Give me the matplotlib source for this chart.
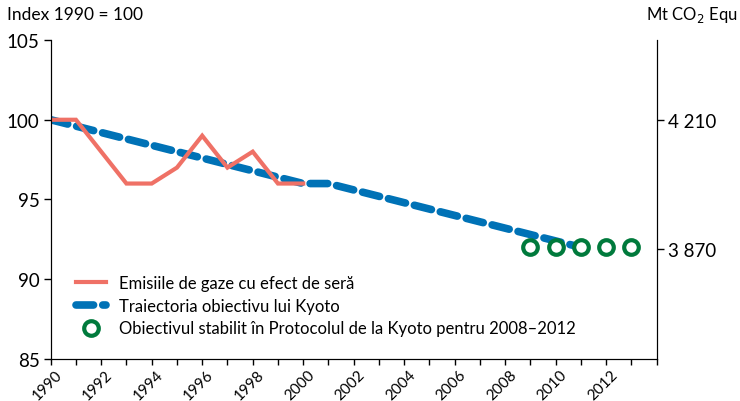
import numpy as np
import matplotlib
matplotlib.use("Agg")
import matplotlib.pyplot as plt
import matplotlib.transforms as mtransforms

plt.rcParams['font.family'] = ['Lato', 'DejaVu Sans']

# Emisiile de gaze (index 1990 = 100)
em_years = [1990, 1991, 1992, 1993, 1994, 1995, 1996, 1997, 1998, 1999, 2000]
em_values = [100, 100, 98, 96, 96, 97, 99, 97, 98, 96, 96]

# Traiectoria obiectiv Kyoto
ky_years = [1990, 1991, 1992, 1993, 1994, 1995, 1996, 1997, 1998, 1999, 2000,
            2001, 2002, 2003, 2004, 2005, 2006, 2007, 2008, 2009, 2010, 2011]
ky_values = [100, 99.6, 99.2, 98.8, 98.4, 98.0, 97.6, 97.2, 96.8, 96.4, 96.0,
             96.0, 95.6, 95.2, 94.8, 94.4, 94.0, 93.6, 93.2, 92.8, 92.4, 92.0]

# Obiectivul stabilit (pozitii ca in grafic)
ob_years = [2009, 2010, 2011, 2012, 2013]
ob_values = [92, 92, 92, 92, 92]

left_ticks = [85, 90, 95, 100, 105]
right_ticks = [3870, 4210]
right_labels = ['3 870', '4 210']
scale = 42.1  # Mt CO2 per index point

red = '#EF7166'
blue = '#0072B6'
green = '#007A3C'

fig = plt.figure(figsize=(7.4, 4.02), dpi=100)
ax = fig.add_axes([0.0685, 0.1045, 0.819, 0.7935])

ax.plot(em_years, em_values, color=red, lw=3, solid_joinstyle='miter',
        label='Emisiile de gaze cu efect de seră', zorder=3)
ax.plot(ky_years, ky_values, color=blue, lw=5.5, dashes=(2.3, 1.2),
        dash_capstyle='round', label='Traiectoria obiectivu lui Kyoto', zorder=2)
ax.plot(ob_years, ob_values, ls='none', marker='o', ms=10.5, mfc='white',
        mec=green, mew=3, zorder=4,
        label='Obiectivul stabilit în Protocolul de la Kyoto pentru 2008–2012')

ax.set_xlim(1990, 2014)
ax.set_ylim(85, 105)
ax.set_yticks(left_ticks)
ax.set_xticks(range(1990, 2015))
ax.set_xticklabels([str(y) if y % 2 == 0 and y < 2014 else '' for y in range(1990, 2015)],
                   rotation=45, ha='right', rotation_mode='anchor')
ax.tick_params(axis='x', length=4, width=1, pad=1, labelsize=11)
ax.tick_params(axis='y', length=5, width=1, labelsize=13.5, pad=3)
offset = mtransforms.ScaledTranslation(4 / 100, -1 / 100, fig.dpi_scale_trans)
for lab in ax.get_xticklabels():
    lab.set_transform(lab.get_transform() + offset)
ax.spines['top'].set_visible(False)

ax2 = ax.twinx()
ax2.set_ylim(85 * scale, 105 * scale)
ax2.set_yticks(right_ticks)
ax2.set_yticklabels(right_labels)
ax2.tick_params(axis='y', length=5, width=1, labelsize=13.5, pad=3)
ax2.spines['top'].set_visible(False)

fig.text(0.009, 0.962, 'Index 1990 = 100', fontsize=12.5, va='center', ha='left')
fig.text(0.873, 0.962, 'Mt CO$_2$ Equ', fontsize=12, va='center', ha='left')

ax.legend(loc='lower left', bbox_to_anchor=(0.03, 0.05), frameon=False,
          fontsize=12, handlelength=1.8, handletextpad=0.8, labelspacing=0.4,
          borderaxespad=0)

fig.savefig('out.png', dpi=100)
